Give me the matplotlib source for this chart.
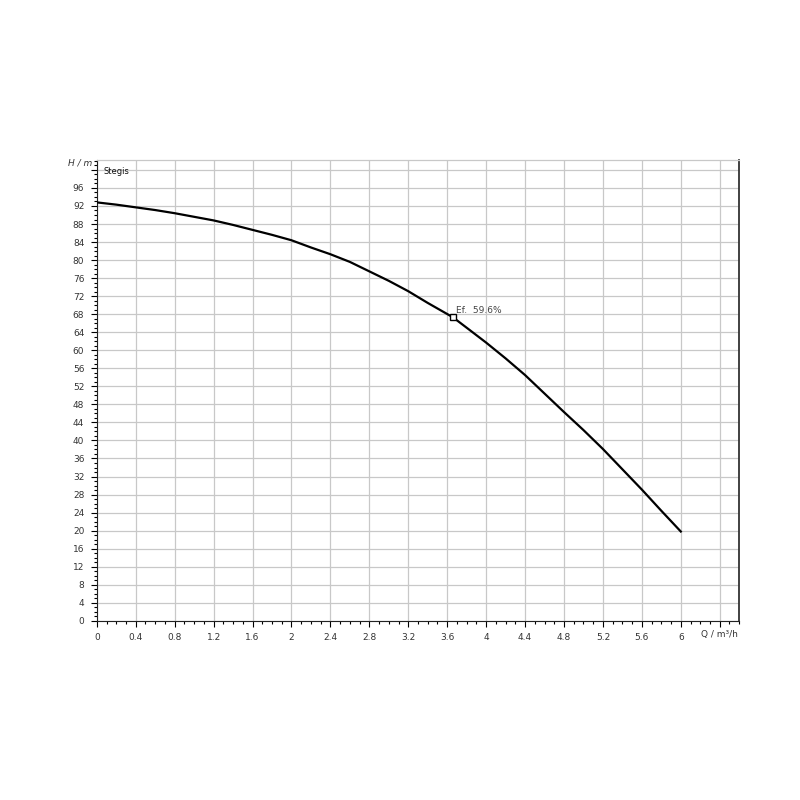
import matplotlib
matplotlib.use("Agg")
import matplotlib.pyplot as plt
from matplotlib.ticker import MultipleLocator, FuncFormatter

Q = [0, 0.2, 0.4, 0.6, 0.8, 1.0, 1.2, 1.4, 1.6, 1.8, 2.0, 2.2, 2.4, 2.6, 2.8,
     3.0, 3.2, 3.4, 3.66, 3.8, 4.0, 4.2, 4.4, 4.6, 4.8, 5.0, 5.2, 5.4, 5.6, 5.8, 6.0]
H = [92.8, 92.3, 91.7, 91.1, 90.4, 89.6, 88.8, 87.8, 86.7, 85.6, 84.4, 82.8, 81.3, 79.6, 77.5,
     75.4, 73.1, 70.5, 67.3, 65.0, 61.7, 58.2, 54.5, 50.4, 46.3, 42.3, 38.1, 33.6, 29.1, 24.4, 19.8]
op_Q = 3.66
op_H = 67.3
op_label = "Ef.  59.6%"

fig = plt.figure(figsize=(8, 8), dpi=100)
ax = fig.add_axes([0.121, 0.224, 0.803, 0.576])

ax.plot(Q, H, color="black", lw=1.6, zorder=3, solid_joinstyle="round")
ax.plot([op_Q], [op_H], marker="s", ms=5, mfc="white", mec="black", mew=1, zorder=4)
ax.text(op_Q + 0.03, op_H + 0.9, op_label, fontsize=6.5, color="#444444", zorder=5)

ax.set_xlim(0, 6.6)
ax.set_ylim(0, 102.2)
ax.xaxis.set_major_locator(MultipleLocator(0.4))
ax.xaxis.set_minor_locator(MultipleLocator(0.1))
ax.yaxis.set_major_locator(MultipleLocator(4))
ax.yaxis.set_minor_locator(MultipleLocator(1))

def fmt(v):
    return f"{v:.1f}".rstrip("0").rstrip(".")
ax.xaxis.set_major_formatter(FuncFormatter(lambda v, p: "" if v > 6.01 else fmt(v)))
ax.yaxis.set_major_formatter(FuncFormatter(lambda v, p: "" if v > 96.1 else fmt(v)))

ax.grid(True, which="major", color="#c8c8c8", lw=0.9)
ax.tick_params(which="major", direction="out", length=4, width=0.8, labelsize=6.5, labelcolor="#333333", pad=5)
ax.tick_params(which="minor", direction="out", length=2, width=0.8)
for s in ax.spines.values():
    s.set_color("#222222")
    s.set_linewidth(0.8)
ax.spines["top"].set_color("#c8c8c8")
ax.spines["top"].set_linewidth(0.9)
ax.spines["right"].set_linewidth(1.3)
ax.spines["right"].set_color("#333333")

ax.text(0.01, 0.985, "Stegis", transform=ax.transAxes, fontsize=6, ha="left", va="top", color="#111111")
fig.text(0.115, 0.796, "H / m", fontsize=6.5, ha="right", va="center", color="#333333", style="italic")
fig.text(0.922, 0.207, "Q / m³/h", fontsize=6.5, ha="right", va="center", color="#333333")

fig.savefig("out.png", dpi=100, facecolor="white")
